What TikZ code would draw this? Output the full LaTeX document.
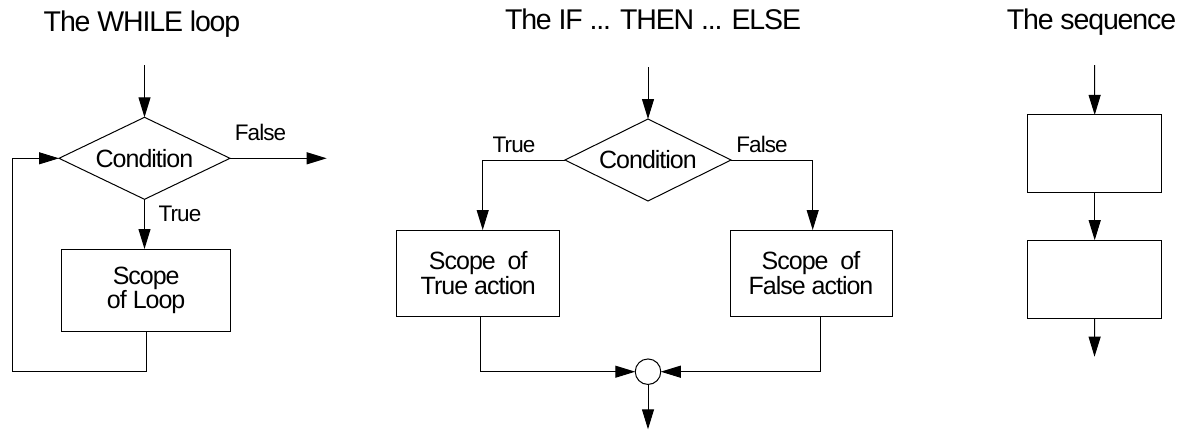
\documentclass[tikz,border=0pt]{standalone}
\usepackage{fontspec}
\setmainfont[LetterSpace=-4]{Liberation Sans}
\usetikzlibrary{arrows.meta,shapes.geometric}
\begin{document}
\begin{tikzpicture}[x=1pt,y=-1pt,line width=1pt,
  arr/.style={-{Triangle[length=20pt,width=12pt]}},
  cond/.style={diamond,draw,aspect=2,inner sep=0pt,outer sep=0pt,minimum height=82pt,
    font=\fontsize{25}{25}\selectfont},
  actbox/.style={rectangle,draw,inner sep=0pt,outer sep=0pt,align=center,
    font=\fontsize{25}{23}\selectfont},
  lbl/.style={anchor=base,inner sep=0pt,font=\fontsize{22.5}{22}\selectfont},
  ttl/.style={anchor=base,inner sep=0pt,font=\fontsize{28.5}{28}\selectfont},
  junc/.style={circle,draw,inner sep=0pt,outer sep=0pt,minimum size=25.5pt}]
\useasboundingbox (0,0) rectangle (1182,434);

% ---------- WHILE loop ----------
\node[ttl] (t1) at (142,31.5) {The WHILE loop};
\coordinate (w0) at (144.5,65);
\node[cond,minimum width=171pt] (c1) at (144.5,158.3) {Condition};
\node[actbox,minimum width=169pt,minimum height=82pt] (b1) at (146.2,290) {Scope\\of Loop};
\coordinate (wf) at (326.7,158.3);
\coordinate (wl) at (12.3,371.7);
\draw[arr] (w0) -- (c1.north);
\draw[arr] (c1.east) -- (wf);
\draw[arr] (c1.south) -- (c1.south |- b1.north);
\draw[arr] (b1.south) |- (wl) |- (c1.west);
\node[lbl] (lf1) at (260.5,140) {False};
\node[lbl] (lt1) at (180,221.7) {True};

% ---------- IF THEN ELSE ----------
\node[ttl] (t2) at (653,29.5) {The IF ... THEN ... ELSE};
\coordinate (i0) at (648,67);
\node[cond,minimum width=166pt] (c2) at (648,160) {Condition};
\node[actbox,minimum width=163pt,minimum height=86pt] (bt) at (478.3,273) {Scope\ \ of\\True action};
\node[actbox,minimum width=162pt,minimum height=86pt] (bf) at (811,273) {Scope\ \ of\\False action};
\node[junc] (j) at (648,371.7) {};
\coordinate (i1) at (648,429.3);
\draw[arr] (i0) -- (c2.north);
\draw[arr] (c2.west) -| ([xshift=4.4pt]bt.north);
\draw[arr] (c2.east) -| ([xshift=1.7pt]bf.north);
\draw[arr] ([xshift=1.7pt]bt.south) |- (j.west);
\draw[arr] ([xshift=9.7pt]bf.south) |- (j.east);
\draw[arr] (j.south) -- (i1);
\node[lbl] (lt2) at (514,152.7) {True};
\node[lbl] (lf2) at (762,152.7) {False};

% ---------- sequence ----------
\node[ttl] (t3) at (1091.5,29.5) {The sequence};
\coordinate (s0) at (1094.5,65);
\node[actbox,minimum width=134pt,minimum height=77.7pt] (s1) at (1094.7,153.8) {};
\node[actbox,minimum width=134pt,minimum height=78pt] (s2) at (1094.7,279.2) {};
\coordinate (s3) at (1094.5,356.7);
\draw[arr] (s0) -- (s1.north);
\draw[arr] (s1.south) -- (s2.north);
\draw[arr] (s2.south) -- (s3);
\end{tikzpicture}
\end{document}
